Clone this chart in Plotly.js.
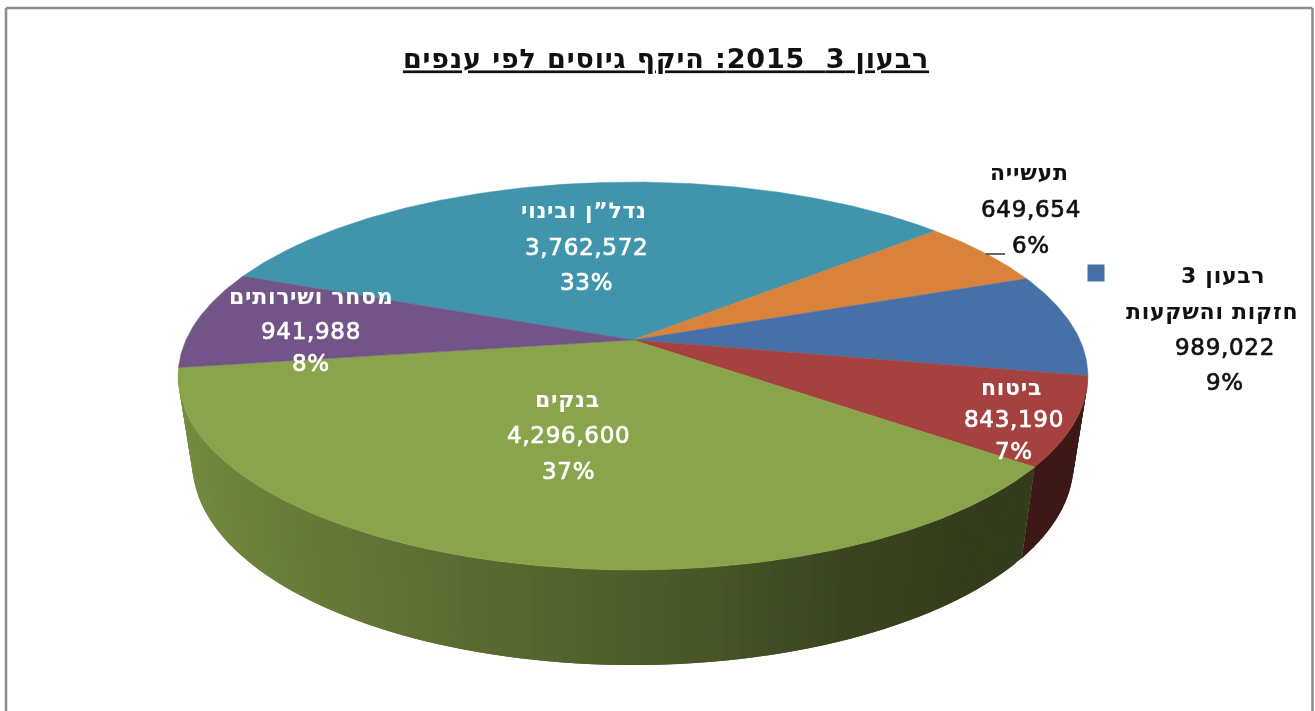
<!DOCTYPE html>
<html lang="he">
<head>
<meta charset="utf-8">
<script src="https://cdn.plot.ly/plotly-3.0.1.min.js"></script>
<style>
html,body{margin:0;padding:0;background:#fff;overflow:hidden}
#chart{width:1315px;height:711px}
#chart svg.main-svg{filter:blur(0.45px)}
.annotation-text{letter-spacing:0.7px}
.annotation-text[style*="font-weight: 500"][style*="255, 255, 255"]{stroke:#ffffff;stroke-width:0.7px}
.annotation-text[style*="font-weight: 500"][style*="17, 17, 17"]{stroke:#111111;stroke-width:0.7px}
.gtitle{letter-spacing:0.85px}
</style>
</head>
<body>
<div id="chart"></div>
<script>
// ---- data ----
const chartTitle = 'רבעון 3\u00A0\u00A02015: היקף גיוסים לפי ענפים';
const legendTitle = 'רבעון 3';
const categories = ['נדל”ן ובינוי', 'תעשייה', 'חזקות והשקעות', 'ביטוח', 'בנקים', 'מסחר ושירותים'];
const values = [3762572, 649654, 989022, 843190, 4296600, 941988];
const topColors = ['#4095AD', '#D9823B', '#4670A7', '#A5423F', '#89A44B', '#725489'];
const labelColors = ['#ffffff', '#111111', '#111111', '#ffffff', '#ffffff', '#ffffff'];

// ---- projection of the tilted disc onto the axes ----
const firstSliceAngle = -68.7;
const cx = 633;
const topDisc = {R: 447, c: 0.1856, h: 187.3, y0: 340};
const lowDisc = {R: 433, c: 0.1856, h: 195, y0: 425.6};
const nameX = [584, 1029, 1212, 1011, 567, 311];
const labelX = [586, 1031, 1225, 1014, 568, 311];
const labelY = [[210, 247, 282], [172, 209, 245], [311, 347, 382], [387, 419, 451], [399, 435, 471], [296, 331, 363]];
const shadeU = [-1, -0.33, 0, 0.4, 0.65, 1];
const shadeF = [0.86, 0.66, 0.57, 0.42, 0.37, 0.37];

function project(disc, deg) {
  const t = deg * Math.PI / 180, u = Math.sin(t), v = Math.cos(t), d = 1 + disc.c * v;
  return [cx + disc.R * u / d, disc.y0 - disc.h * v / d];
}
function shade(hex, u) {
  let f = shadeF[shadeF.length - 1];
  for (let i = 0; i < shadeU.length - 1; i++) {
    if (u >= shadeU[i] && u <= shadeU[i + 1]) {
      f = shadeF[i] + (shadeF[i + 1] - shadeF[i]) * (u - shadeU[i]) / (shadeU[i + 1] - shadeU[i]);
      break;
    }
  }
  const n = parseInt(hex.slice(1), 16);
  const ch = [(n >> 16) & 255, (n >> 8) & 255, n & 255].map(c => Math.round(c * f));
  return 'rgb(' + ch.join(',') + ')';
}

const total = values.reduce((a, b) => a + b, 0);
const spans = [];
let acc = firstSliceAngle;
values.forEach(v => { const s = acc, e = acc + v / total * 360; spans.push([s, e]); acc = e; });

const traces = [];
// side wall: overlapping quads painted in order, so no seams show
const wallFrom = 100.7, wallTo = 261;
spans.forEach((sp, i) => {
  for (let k = 0; k <= 1; k++) {
    const a0 = Math.max(sp[0] + k * 360, wallFrom), a1 = Math.min(sp[1] + k * 360, wallTo);
    if (a1 <= a0) continue;
    const step = 1.6, n = Math.ceil((a1 - a0) / step);
    for (let j = 0; j < n; j++) {
      const p = a0 + (a1 - a0) * j / n, q = Math.min(a1, a0 + (a1 - a0) * (j + 2) / n);
      const A = project(topDisc, p), B = project(topDisc, q), C = project(lowDisc, q), D = project(lowDisc, p);
      const col = shade(topColors[i], Math.sin((p + step / 2) * Math.PI / 180));
      traces.push({type: 'scatter', mode: 'lines', x: [A[0], B[0], C[0], D[0], A[0]], y: [A[1], B[1], C[1], D[1], A[1]],
        fill: 'toself', fillcolor: col, line: {width: 0, color: col}, hoverinfo: 'skip', showlegend: false});
    }
  }
});
// top face
spans.forEach((sp, i) => {
  const xs = [cx], ys = [topDisc.y0];
  const n = Math.ceil((sp[1] - sp[0]) / 0.5);
  for (let j = 0; j <= n; j++) {
    const P = project(topDisc, sp[0] + (sp[1] - sp[0]) * j / n);
    xs.push(P[0]); ys.push(P[1]);
  }
  xs.push(cx); ys.push(topDisc.y0);
  traces.push({type: 'scatter', mode: 'lines', x: xs, y: ys, fill: 'toself', fillcolor: topColors[i],
    line: {color: topColors[i], width: 0.5}, name: categories[i],
    text: categories[i] + ' ' + values[i].toLocaleString('en-US'), hoverinfo: 'text', showlegend: false});
});
// legend key
traces.push({type: 'scatter', mode: 'markers', x: [1096], y: [273], hoverinfo: 'skip', showlegend: false,
  marker: {symbol: 'square', size: 17, color: topColors[2]}});

// data labels
const annotations = [];
function addText(text, x, y, color, size, weight) {
  annotations.push({text: text, x: x, y: y, xref: 'x', yref: 'y', showarrow: false, xanchor: 'center', yanchor: 'middle',
    font: {family: '"DejaVu Sans", sans-serif', size: size, color: color, weight: weight}});
}
categories.forEach((c, i) => {
  addText(c, nameX[i], labelY[i][0], labelColors[i], 22, 600);
  addText(values[i].toLocaleString('en-US'), labelX[i], labelY[i][1], labelColors[i], 23, 500);
  addText(Math.round(values[i] / total * 100) + '%', labelX[i], labelY[i][2], labelColors[i], 23, 500);
});
addText(legendTitle, 1223, 275, '#111111', 22, 600);

const frame = {color: '#8e8e8e', width: 2.6};
const layout = {
  width: 1315, height: 711, margin: {l: 0, r: 0, t: 0, b: 0},
  paper_bgcolor: '#ffffff', plot_bgcolor: '#ffffff', showlegend: false,
  title: {text: chartTitle, x: 666 / 1315, xanchor: 'center', y: 1 - 59 / 711, yanchor: 'middle',
    font: {family: '"DejaVu Sans", sans-serif', size: 27, weight: 600, color: '#111111', lineposition: 'under'}},
  xaxis: {range: [0, 1315], visible: false, fixedrange: true},
  yaxis: {range: [711, 0], visible: false, fixedrange: true},
  annotations: annotations,
  shapes: [
    {type: 'line', xref: 'x', yref: 'y', x0: 6, x1: 6, y0: 8, y1: 711, line: frame},
    {type: 'line', xref: 'x', yref: 'y', x0: 6, x1: 1312.5, y0: 8, y1: 8, line: frame},
    {type: 'line', xref: 'x', yref: 'y', x0: 1312.5, x1: 1312.5, y0: 8, y1: 711, line: frame},
    {type: 'line', xref: 'x', yref: 'y', x0: 986, x1: 1005, y0: 254, y1: 254, line: {color: '#333333', width: 1.5}}
  ]
};
Plotly.newPlot('chart', traces, layout, {displayModeBar: false});
</script>
</body>
</html>
